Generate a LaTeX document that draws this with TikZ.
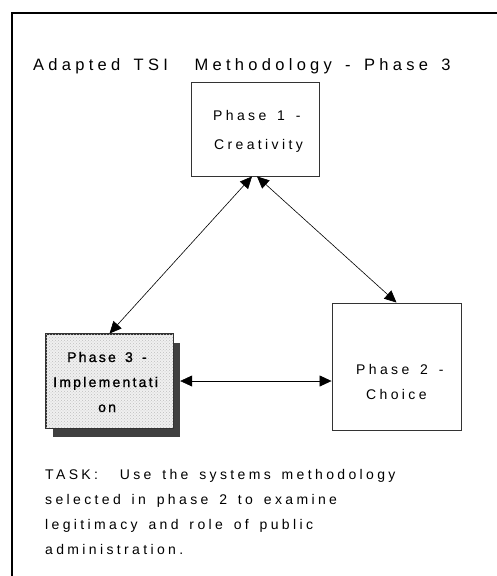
\documentclass[tikz,border=0pt]{standalone}
\usepackage{fontspec}
\usetikzlibrary{arrows.meta,patterns}
\newfontfamily\lsfont[LetterSpace=24,WordSpace=1.5]{Liberation Sans}
\newfontfamily\lstfont[LetterSpace=26,WordSpace=1.5]{Liberation Sans}
\newfontfamily\lsbfont[LetterSpace=16,WordSpace=1.5,FakeBold=1.2]{Liberation Sans}
\begin{document}
\begin{tikzpicture}[x=1pt,y=-1pt,
  txt/.style={anchor=base west,inner sep=0pt,font=\lsfont\fontsize{14}{16}\selectfont},
  btxt/.style={anchor=base west,inner sep=0pt,font=\lsbfont\fontsize{14}{16}\selectfont},
  ttl/.style={anchor=base west,inner sep=0pt,font=\lstfont\fontsize{16.5}{18}\selectfont},
  phasebox/.style={draw=black!80,line width=0.9pt,fill=white,inner sep=0pt},
  link/.style={line width=0.6pt,{Triangle[length=12pt,width=11pt]}-{Triangle[length=12pt,width=11pt]}}]
\useasboundingbox (0,0) rectangle (497,576);
% frame
\coordinate (ftl) at (12,13);
\coordinate (ftr) at (497,13);
\coordinate (fbl) at (12,576);
\draw[line width=1.6pt] (fbl) -- (ftl) -- (ftr);
% title
\node[ttl] (title) at (33,70) {Adapted TSI\ \ Methodology - Phase 3};
% boxes
\node[phasebox,minimum width=128pt,minimum height=94pt] (p1) at (255,129) {};
\node[phasebox,minimum width=129pt,minimum height=127pt] (p2) at (396.5,366.5) {};
\node[draw=none,fill=black!75,minimum width=127pt,minimum height=94pt,inner sep=0pt] (sh) at (116.5,390) {};
\node[phasebox,fill=black!6,minimum width=127pt,minimum height=94pt] (p3) at (109.5,381) {};
\fill[pattern=crosshatch dots,pattern color=black!25] (p3.north west) rectangle (p3.south east);
\draw[black!80,line width=0.9pt] (p3.north west) rectangle (p3.south east);
% box texts
\node[txt] (p1a) at (213,120) {Phase 1 -};
\node[txt] (p1b) at (214,149) {Creativity};
\node[btxt] (p3a) at (67,362) {Phase 3 -};
\node[btxt] (p3b) at (53,387) {Implementati};
\node[btxt] (p3c) at (98,412) {on};
\node[txt] (p2a) at (356,374) {Phase 2 -};
\node[txt] (p2b) at (366,399) {Choice};
% connectors
\draw[link] ([xshift=-3pt]p1.south) -- (p3.north);
\draw[link] ([xshift=2pt]p1.south) -- (p2.north);
\draw[link] (sh.east |- p3.east) -- (p2.west |- p3.east);
% task text
\node[txt] (t1) at (45,479) {TASK:\ \ Use the systems methodology};
\node[txt] (t2) at (45,504) {selected in phase 2 to examine};
\node[txt] (t3) at (45,529) {legitimacy and role of public};
\node[txt] (t4) at (45,554) {administration.};
\end{tikzpicture}
\end{document}
